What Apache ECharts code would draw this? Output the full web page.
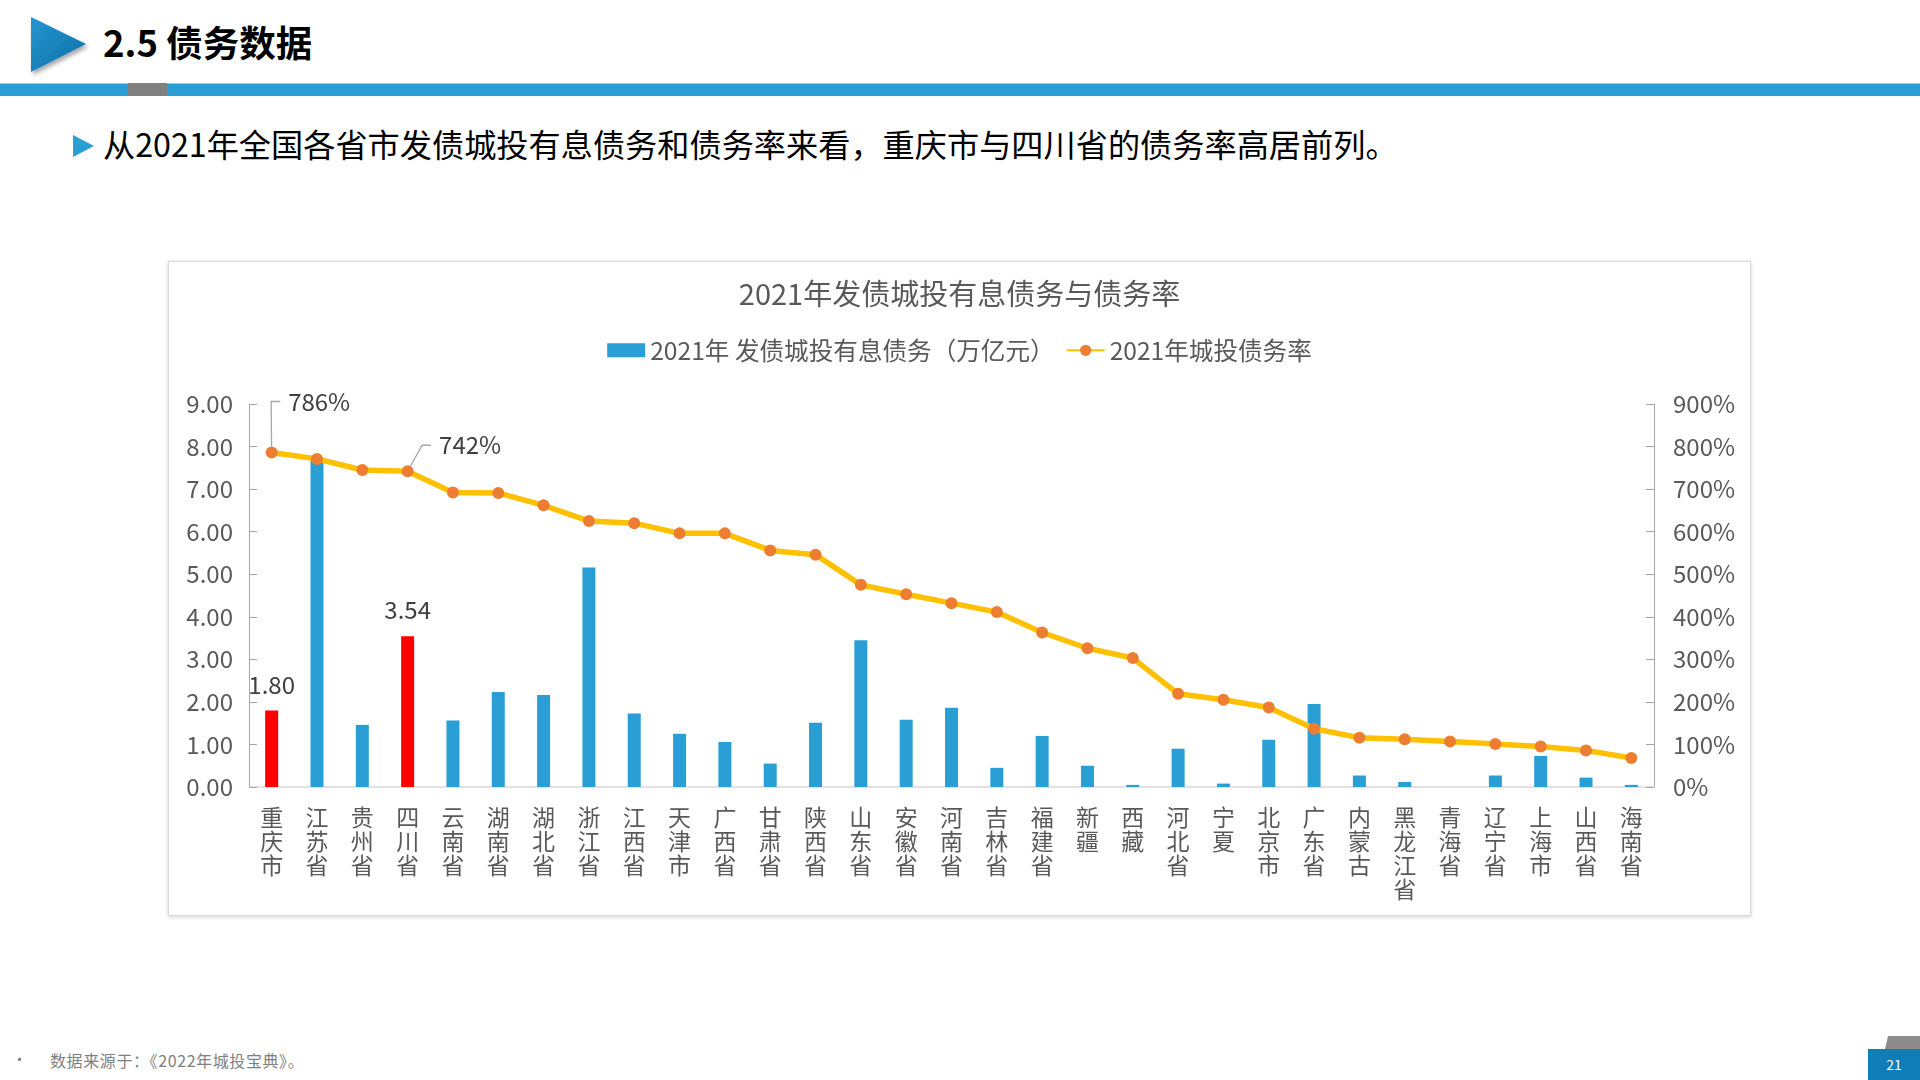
<!DOCTYPE html>
<html>
<head>
<meta charset="utf-8">
<script src="https://cdn.jsdelivr.net/npm/echarts@6/dist/echarts.min.js"></script>
<style>
html,body{margin:0;padding:0;width:1920px;height:1080px;background:#fff;overflow:hidden;font-family:"Noto Sans CJK SC","Noto Sans",sans-serif;}
.abs{position:absolute;}
#hdrTitle{left:103px;top:16px;height:52px;line-height:52px;font-size:36.5px;font-weight:bold;color:#000;white-space:nowrap;}
#band{left:0;top:83px;width:1920px;height:13px;background:#2A9FD6;border-top:1px solid #8fd0ef;box-sizing:border-box;}
#bandGray{left:128px;top:83px;width:39px;height:13px;background:#808080;}
#sub{left:103px;top:121px;height:44px;line-height:44px;font-size:32.2px;color:#000;white-space:nowrap;}
#frame{left:168px;top:261px;width:1583px;height:655px;box-sizing:border-box;border:1px solid #d9d9d9;box-shadow:0 1px 4px rgba(0,0,0,0.18);background:#fff;}
#chart{left:168px;top:261px;width:1583px;height:655px;}
#foot{left:50px;top:1050px;height:20px;line-height:20px;font-size:16px;letter-spacing:0.6px;color:#7f7f7f;white-space:nowrap;}
#bullet{left:12px;top:1049px;height:20px;line-height:20px;font-size:15px;color:#7f7f7f;}
#page{left:1868px;top:1049px;width:52px;height:31px;background:#0E7DB8;color:#fff;font-size:14px;line-height:31px;text-align:center;}
</style>
</head>
<body>
<svg class="abs" style="left:0;top:0" width="1920" height="180">
  <defs>
    <linearGradient id="tg" x1="0" y1="0" x2="1" y2="1">
      <stop offset="0" stop-color="#2596d0"/>
      <stop offset="1" stop-color="#0f6fa6"/>
    </linearGradient>
    <filter id="sh" x="-30%" y="-30%" width="160%" height="160%">
      <feDropShadow dx="2" dy="3" stdDeviation="2" flood-color="#000" flood-opacity="0.35"/>
    </filter>
  </defs>
  <polygon points="31,17 86,44 31,72" fill="url(#tg)" filter="url(#sh)"/>
  <polygon points="73,135 94,146 73,157" fill="#2A9FD6"/>
</svg>
<div id="hdrTitle" class="abs">2.5 债务数据</div>
<div id="band" class="abs"></div>
<div id="bandGray" class="abs"></div>
<div id="sub" class="abs">从2021年全国各省市发债城投有息债务和债务率来看，重庆市与四川省的债务率高居前列。</div>
<div id="frame" class="abs"></div>
<div id="chart" class="abs"></div>
<div id="bullet" class="abs">•</div>
<div id="foot" class="abs">数据来源于：《2022年城投宝典》。</div>
<svg class="abs" style="left:1860px;top:1030px" width="60" height="20">
  <polygon points="28,6 60,6 60,19 25,19" fill="#8c8c8c"/>
</svg>
<div id="page" class="abs">21</div>

<script>
// ---- data ----
const categories = ['重庆市','江苏省','贵州省','四川省','云南省','湖南省','湖北省','浙江省','江西省','天津市',
  '广西省','甘肃省','陕西省','山东省','安徽省','河南省','吉林省','福建省','新疆','西藏',
  '河北省','宁夏','北京市','广东省','内蒙古','黑龙江省','青海省','辽宁省','上海市','山西省','海南省'];
const debtValues = [1.80,7.71,1.46,3.54,1.56,2.23,2.16,5.16,1.73,1.25,
  1.06,0.55,1.51,3.45,1.58,1.86,0.45,1.20,0.50,0.05,
  0.90,0.08,1.11,1.95,0.27,0.12,0.00,0.27,0.73,0.22,0.05];
const debtRates = [786,771,745,742,692,691,662,625,620,596,
  596,556,546,475,453,432,411,363,326,303,
  219,205,187,137,116,112,107,101,95,86,68];
const highlighted = ['重庆市','四川省'];
const labelledRates = ['重庆市','四川省'];
const leftTicks = [0,1,2,3,4,5,6,7,8,9];
const rightTicks = [0,100,200,300,400,500,600,700,800,900];
const barName = '2021年 发债城投有息债务（万亿元）';
const lineName = '2021年城投债务率';
const chartTitle = '2021年发债城投有息债务与债务率';

const BLUE = '#2A9FD6', RED = '#FF0000', GOLD = '#FFC000', ORANGE = '#ED7D31';
const TXT = '#595959', LBL = '#404040';
const FONT = '"Noto Sans CJK SC","Noto Sans",sans-serif';

// label offsets for the two annotated rate points (label placement only)
const rateLabelOffsets = { '重庆市': [43.5, -28], '四川省': [58.5, -3] };

const barData = debtValues.map((v, i) => {
  const hi = highlighted.includes(categories[i]);
  return {
    value: v,
    itemStyle: { color: hi ? RED : BLUE },
    label: { show: hi }
  };
});
const lineData = debtRates.map((v, i) => ({
  value: v,
  label: { show: labelledRates.includes(categories[i]) }
}));

const chart = echarts.init(document.getElementById('chart'), null, { renderer: 'canvas' });
chart.setOption({
  animation: false,
  textStyle: { fontFamily: FONT },
  title: {
    text: chartTitle, left: 'center', top: 13,
    textStyle: { fontSize: 29, fontWeight: 'normal', color: TXT, fontFamily: FONT }
  },
  legend: {
    top: 72, left: 'center', itemWidth: 38, itemHeight: 14, itemGap: 11,
    textStyle: { fontSize: 24.6, color: TXT, fontFamily: FONT },
    data: [{ name: barName, icon: 'rect' }, { name: lineName }]
  },
  grid: { left: 81, right: 97, top: 143, bottom: 129, outerBoundsMode: 'none', containLabel: false },
  xAxis: {
    type: 'category', data: categories,
    axisLine: { lineStyle: { color: '#d9d9d9', width: 1.5 } },
    axisTick: { show: false },
    axisLabel: {
      interval: 0, margin: 18, color: TXT, fontSize: 23, lineHeight: 24, fontFamily: FONT,
      formatter: v => v.split('').join('\n')
    }
  },
  yAxis: [{
    type: 'value', min: leftTicks[0], max: leftTicks[leftTicks.length - 1], interval: 1,
    axisLine: { show: true, lineStyle: { color: '#a6a6a6' } },
    axisTick: { show: true, inside: true, length: 8, lineStyle: { color: '#a6a6a6' } },
    splitLine: { show: false },
    axisLabel: { margin: 16, color: TXT, fontSize: 24, fontFamily: FONT, formatter: v => v.toFixed(2) }
  }, {
    type: 'value', min: rightTicks[0], max: rightTicks[rightTicks.length - 1], interval: 100,
    axisLine: { show: true, lineStyle: { color: '#a6a6a6' } },
    axisTick: { show: true, inside: true, length: 8, lineStyle: { color: '#a6a6a6' } },
    splitLine: { show: false },
    axisLabel: { margin: 19, color: TXT, fontSize: 24, fontFamily: FONT, formatter: v => v + '%' }
  }],
  series: [{
    name: barName, type: 'bar', data: barData, barWidth: 13,
    itemStyle: { color: BLUE },
    label: {
      position: 'top', distance: 14, color: LBL, fontSize: 24, fontFamily: FONT,
      formatter: p => Number(p.value).toFixed(2)
    }
  }, {
    name: lineName, type: 'line', yAxisIndex: 1, data: lineData,
    symbol: 'circle', symbolSize: 12,
    lineStyle: { color: GOLD, width: 5.5 },
    itemStyle: { color: ORANGE },
    label: {
      position: 'top', color: LBL, fontSize: 24, fontFamily: FONT,
      padding: [0, 0, 0, 8],
      backgroundColor: 'rgba(255,255,255,0)',
      formatter: p => p.value + '%'
    },
    labelLine: { show: true, length2: 9, lineStyle: { color: '#a6a6a6', width: 1.3 } },
    labelLayout: function (p) {
      const off = rateLabelOffsets[categories[p.dataIndex]];
      if (!off) return {};
      return { dx: off[0], dy: off[1] };
    },
    z: 3
  }]
});
</script>
</body>
</html>
